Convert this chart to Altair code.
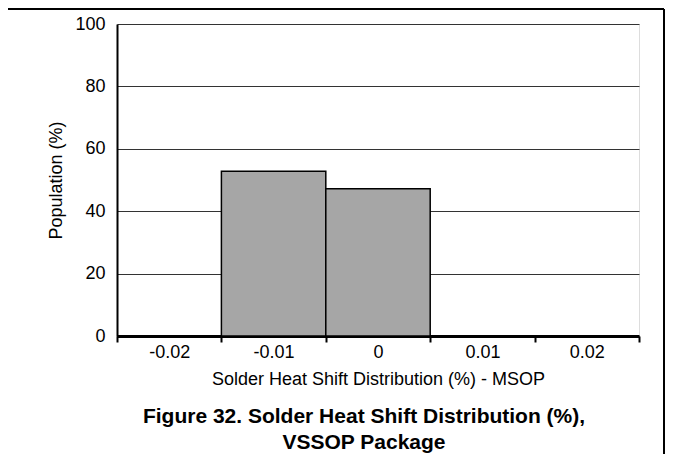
import altair as alt
import pandas as pd

categories = ["-0.02", "-0.01", "0", "0.01", "0.02"]
population = [0, 52.8, 47.2, 0, 0]
y_ticks = [0, 20, 40, 60, 80, 100]
caption = ["Figure 32. Solder Heat Shift Distribution (%),", "VSSOP Package"]
x_title = "Solder Heat Shift Distribution (%) - MSOP"
y_title = "Population (%)"

df = pd.DataFrame({"shift": categories, "population": population})

FONT = "Liberation Sans"
PLOT_W, PLOT_H = 522, 312
TOTAL_W, TOTAL_H = 657, 446
PAD = {"left": 109, "top": 16, "right": TOTAL_W - 109 - PLOT_W, "bottom": TOTAL_H - 16 - PLOT_H}

bars = alt.Chart(df).mark_bar(color="#a6a6a6", stroke="black", strokeWidth=1.5).encode(
    x=alt.X(
        "shift:N",
        sort=categories,
        scale=alt.Scale(paddingInner=0, paddingOuter=0),
        axis=alt.Axis(
            title=x_title,
            labelAngle=0,
            tickBand="extent",
            tickSize=6,
            tickWidth=2,
            tickColor="black",
            domainColor="black",
            domainWidth=3,
            labelFont=FONT,
            labelFontSize=18,
            labelColor="black",
            labelPadding=1,
            titleFont=FONT,
            titleFontSize=18,
            titleFontWeight="normal",
            titleColor="black",
            titlePadding=9,
            grid=False,
        ),
    ),
    y=alt.Y(
        "population:Q",
        scale=alt.Scale(domain=[0, 100]),
        axis=alt.Axis(
            title=y_title,
            values=y_ticks,
            ticks=False,
            domainColor="black",
            domainWidth=2,
            labelFont=FONT,
            labelFontSize=18,
            labelColor="black",
            labelPadding=12,
            titleFont=FONT,
            titleFontSize=18,
            titleFontWeight="normal",
            titleColor="black",
            titlePadding=9,
            grid=True,
            gridColor="#333333",
            gridWidth=1,
        ),
    ),
)

one_row = pd.DataFrame({"k": [0]})
caption_text = alt.Chart(one_row).mark_text(
    font=FONT, fontSize=21, fontWeight="bold", color="black",
    align="center", baseline="alphabetic", lineHeight=26,
).encode(
    x=alt.value(247), y=alt.value(399), text=alt.value(caption)
)

top_rule = alt.Chart(one_row).mark_rule(color="black", strokeWidth=2, clip=False).encode(
    x=alt.value(-PAD["left"]), x2=alt.value(PLOT_W + PAD["right"] - 1), y=alt.value(-15)
)
right_rule = alt.Chart(one_row).mark_rule(color="black", strokeWidth=2, clip=False).encode(
    x=alt.value(PLOT_W + PAD["right"] - 1), y=alt.value(-15), y2=alt.value(PLOT_H + PAD["bottom"])
)

chart = alt.layer(bars, caption_text, top_rule, right_rule).properties(
    width=PLOT_W,
    height=PLOT_H,
    padding=PAD,
    autosize="none",
).configure_view(stroke="black", strokeWidth=2).configure(background="white")

chart.save("out.html", embed_options={"renderer": "svg", "actions": False})
